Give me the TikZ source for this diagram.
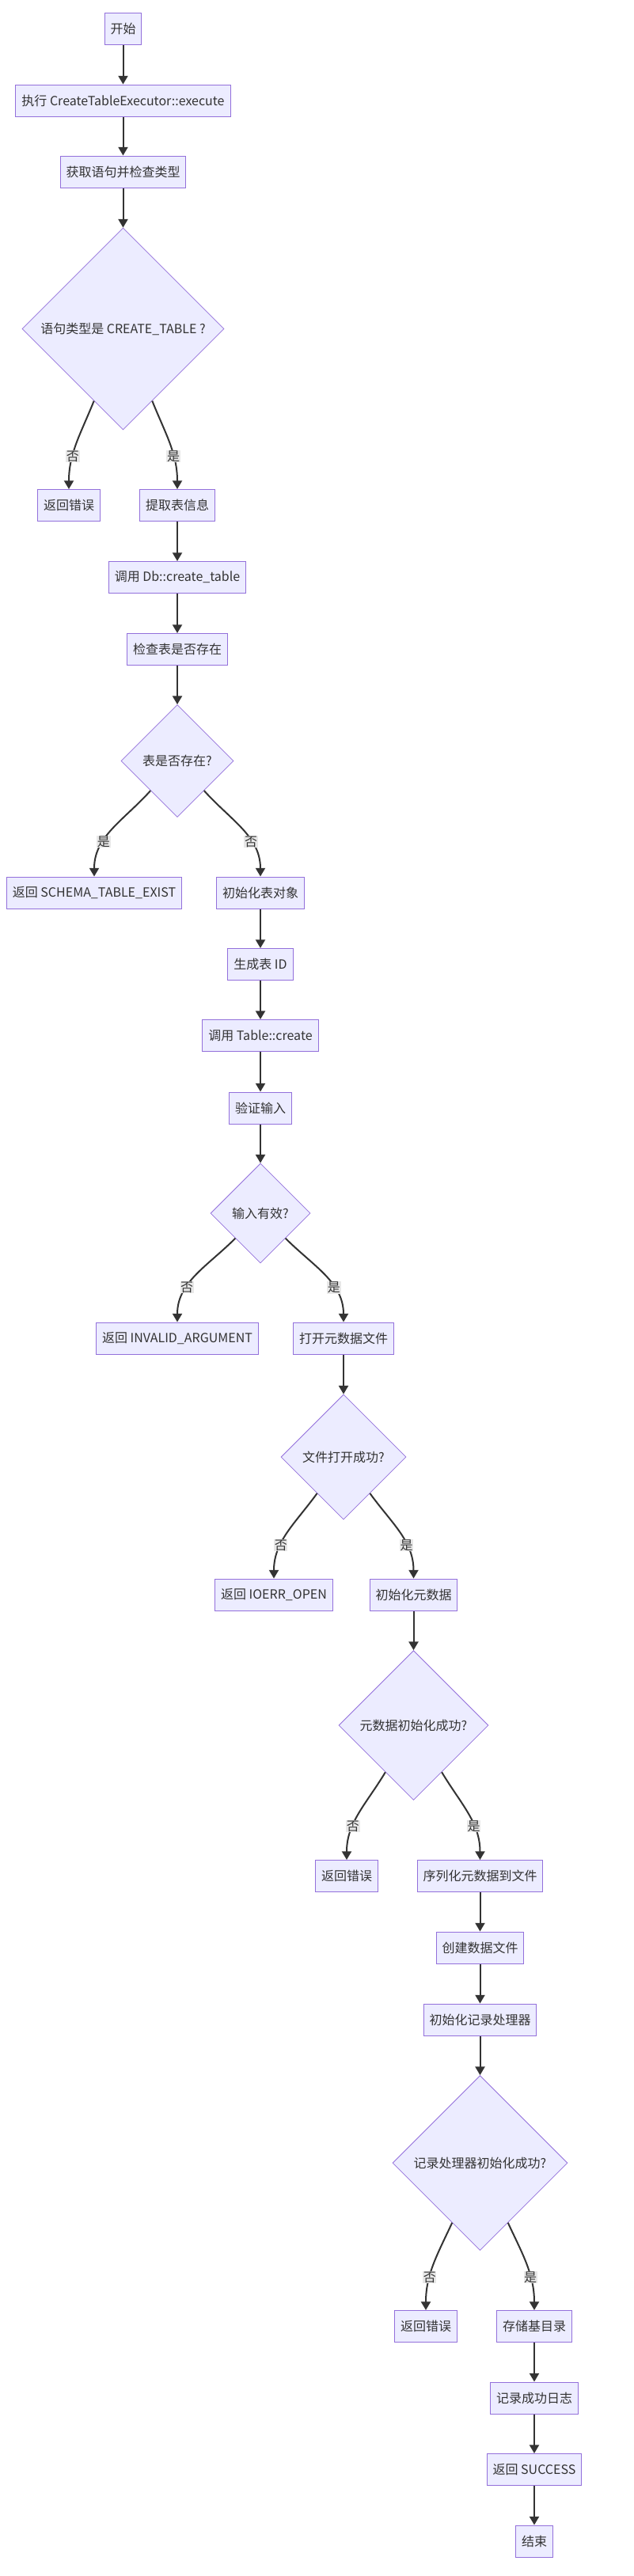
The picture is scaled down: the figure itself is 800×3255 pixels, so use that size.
\documentclass[tikz,border=0pt]{standalone}
\usepackage{fontspec}
\setmainfont{Noto Sans CJK SC}
\usetikzlibrary{shapes.geometric,arrows.meta}
\definecolor{nodefill}{HTML}{ECECFF}
\definecolor{nodeline}{HTML}{9370DB}
\definecolor{ink}{HTML}{333333}
\definecolor{lblfill}{HTML}{E8E8E8}

\begin{document}
\begin{tikzpicture}[x=0.75pt,y=-0.75pt,
	box/.style={rectangle, draw=nodeline, fill=nodefill, line width=0.75pt, text=ink, font=\fontsize{12pt}{14pt}\selectfont, minimum height=30pt, inner xsep=5.6pt, inner ysep=0pt},
	decision/.style={diamond, aspect=1, draw=nodeline, fill=nodefill, line width=0.6pt, text=ink, font=\fontsize{12pt}{14pt}\selectfont, inner sep=0pt},
	flow/.style={draw=ink, line width=1.5pt, -{Triangle[length=8pt,width=9pt]}},
	lbl/.style={fill=lblfill, text=ink, font=\fontsize{12pt}{14pt}\selectfont, inner sep=0.5pt}]
	\useasboundingbox (0,0) rectangle (800,3255);

	\node[box] (1) at (155.5,36) {开始};
	\node[box] (2) at (155.5,127) {执行 CreateTableExecutor::execute};
	\node[box] (3) at (155.5,217) {获取语句并检查类型};
	\node[decision, minimum size=191.25pt] (4) at (155.5,415.5) {语句类型是 CREATE\_TABLE ?};
	\node[box] (5) at (87,638.5) {返回错误};
	\node[box] (6) at (224,638.5) {提取表信息};
	\node[box] (7) at (224,729.5) {调用 Db::create\_table};
	\node[box] (8) at (224,820.5) {检查表是否存在};
	\node[decision, minimum size=106.5pt] (9) at (224,961.5) {表是否存在?};
	\node[box] (10) at (119,1128) {返回 SCHEMA\_TABLE\_EXIST};
	\node[box] (11) at (329,1128) {初始化表对象};
	\node[box] (12) at (329,1218.5) {生成表 ID};
	\node[box] (13) at (329,1308.5) {调用 Table::create};
	\node[box] (14) at (329,1400) {验证输入};
	\node[decision, minimum size=94.5pt] (15) at (329,1533) {输入有效?};
	\node[box] (16) at (224,1691) {返回 INVALID\_ARGUMENT};
	\node[box] (17) at (434,1691) {打开元数据文件};
	\node[decision, minimum size=118.5pt] (18) at (434,1841) {文件打开成功?};
	\node[box] (19) at (346,2015) {返回 IOERR\_OPEN};
	\node[box] (20) at (522.5,2015) {初始化元数据};
	\node[decision, minimum size=141.75pt] (21) at (522.5,2180) {元数据初始化成功?};
	\node[box] (22) at (438,2370.5) {返回错误};
	\node[box] (23) at (606.5,2370.5) {序列化元数据到文件};
	\node[box] (24) at (606.5,2461) {创建数据文件};
	\node[box] (25) at (606.5,2552) {初始化记录处理器};
	\node[decision, minimum size=165.75pt] (26) at (606.5,2733) {记录处理器初始化成功?};
	\node[box] (27) at (538,2939.5) {返回错误};
	\node[box] (28) at (675,2939.5) {存储基目录};
	\node[box] (29) at (675,3030) {记录成功日志};
	\node[box] (30) at (675,3120.5) {返回 SUCCESS};
	\node[box] (31) at (675,3211) {结束};

	% main line
	\draw[flow] (1) -- (2);
	\draw[flow] (2) -- (3);
	\draw[flow] (3) -- (4);
	% decision 4
	\draw[flow] (4.248) to[out=248,in=90] node[lbl,pos=0.65]{否} (5);
	\draw[flow] (4.292) to[out=292,in=90] node[lbl,pos=0.65]{是} (6);
	\draw[flow] (6) -- (7);
	\draw[flow] (7) -- (8);
	\draw[flow] (8) -- (9);
	% decision 9
	\draw[flow] (9.228) to[out=228,in=90] node[lbl,pos=0.65]{是} (10);
	\draw[flow] (9.312) to[out=312,in=90] node[lbl,pos=0.65]{否} (11);
	\draw[flow] (11) -- (12);
	\draw[flow] (12) -- (13);
	\draw[flow] (13) -- (14);
	\draw[flow] (14) -- (15);
	% decision 15
	\draw[flow] (15.225) to[out=225,in=90] node[lbl,pos=0.65]{否} (16);
	\draw[flow] (15.315) to[out=315,in=90] node[lbl,pos=0.65]{是} (17);
	\draw[flow] (17) -- (18);
	% decision 18
	\draw[flow] (18.234) to[out=234,in=90] node[lbl,pos=0.65]{否} (19);
	\draw[flow] (18.306) to[out=306,in=90] node[lbl,pos=0.65]{是} (20);
	\draw[flow] (20) -- (21);
	% decision 21
	\draw[flow] (21.239) to[out=239,in=90] node[lbl,pos=0.65]{否} (22);
	\draw[flow] (21.301) to[out=301,in=90] node[lbl,pos=0.65]{是} (23);
	\draw[flow] (23) -- (24);
	\draw[flow] (24) -- (25);
	\draw[flow] (25) -- (26);
	% decision 26
	\draw[flow] (26.245) to[out=245,in=90] node[lbl,pos=0.65]{否} (27);
	\draw[flow] (26.295) to[out=295,in=90] node[lbl,pos=0.65]{是} (28);
	\draw[flow] (28) -- (29);
	\draw[flow] (29) -- (30);
	\draw[flow] (30) -- (31);
\end{tikzpicture}
\end{document}
